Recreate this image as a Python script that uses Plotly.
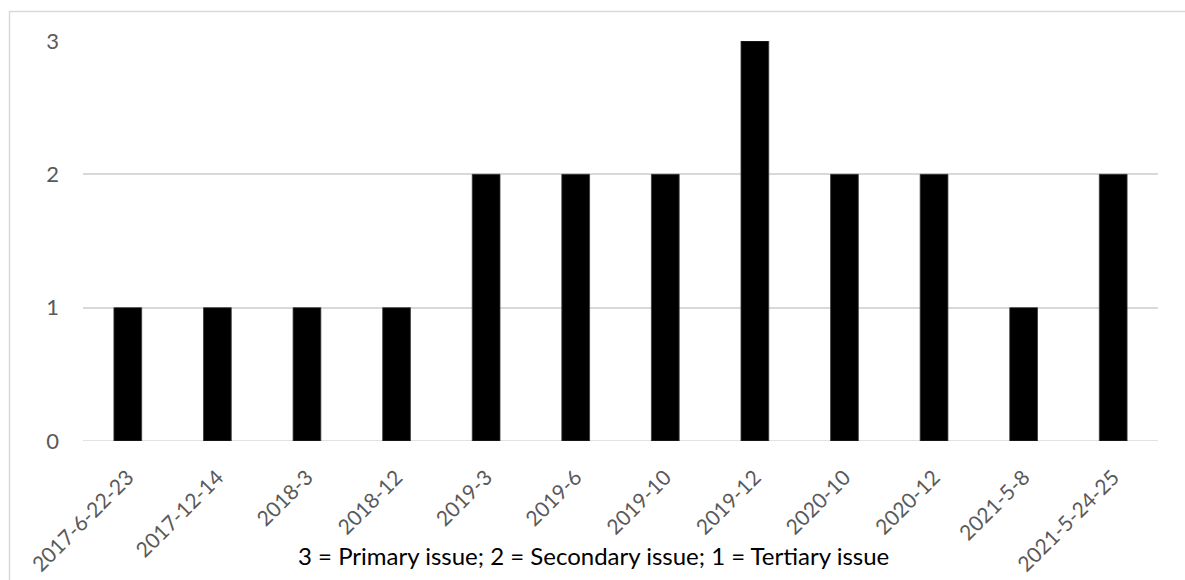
import plotly.graph_objects as go

# Meeting dates and issue priority level for each
dates = ["2017-6-22-23", "2017-12-14", "2018-3", "2018-12", "2019-3", "2019-6",
         "2019-10", "2019-12", "2020-10", "2020-12", "2021-5-8", "2021-5-24-25"]
priority = [1, 1, 1, 1, 2, 2, 2, 3, 2, 2, 1, 2]
y_ticks = [0, 1, 2, 3]
caption = "3 = Primary issue; 2 = Secondary issue; 1 = Tertiary issue"

W, H = 1185, 580
L, R, T, B = 83, 27, 41, 139
pw, ph = W - L - R, H - T - B

def px_to_paper_x(px):
    return (px - L) / pw

def px_to_paper_y(py):
    return (H - B - py) / ph

fig = go.Figure(
    go.Bar(
        x=dates,
        y=priority,
        marker=dict(color="#000000", line=dict(color="#3a3a3a", width=0.8)),
        width=0.31,
    )
)

font_family = "Lato, 'Open Sans', sans-serif"

fig.update_layout(
    width=W,
    height=H,
    margin=dict(l=L, r=R, t=T, b=B, pad=0),
    paper_bgcolor="white",
    plot_bgcolor="white",
    showlegend=False,
    font=dict(family=font_family, color="#595959", size=21),
    xaxis=dict(
        type="category",
        tickangle=-45,
        tickfont=dict(size=21, color="#595959"),
        showgrid=False,
        showline=False,
        ticks="",
        ticklabelstandoff=19,
        automargin=False,
    ),
    yaxis=dict(
        range=[0, 3],
        tickvals=y_ticks,
        tickfont=dict(size=22, color="#595959"),
        showgrid=True,
        gridcolor="#d9d9d9",
        gridwidth=1.5,
        zeroline=False,
        showline=False,
        ticks="",
        ticklabelstandoff=23,
        automargin=False,
    ),
    shapes=[
        # chart frame
        dict(
            type="rect",
            xref="paper", yref="paper",
            x0=px_to_paper_x(9.5), x1=px_to_paper_x(1200),
            y0=px_to_paper_y(600), y1=px_to_paper_y(11.5),
            line=dict(color="#d9d9d9", width=1.5),
            fillcolor="rgba(0,0,0,0)",
            layer="below",
        ),
        # baseline at zero
        dict(
            type="line", xref="paper", yref="y",
            x0=0, x1=1, y0=0, y1=0,
            line=dict(color="#d9d9d9", width=1.5),
            layer="below",
        ),
    ],
    annotations=[
        dict(
            text=caption,
            xref="paper", yref="paper",
            x=px_to_paper_x(593.5), y=px_to_paper_y(555),
            xanchor="center", yanchor="middle",
            showarrow=False,
            font=dict(family=font_family, size=24, color="#000000"),
        )
    ],
)

fig.write_html("out.html")
